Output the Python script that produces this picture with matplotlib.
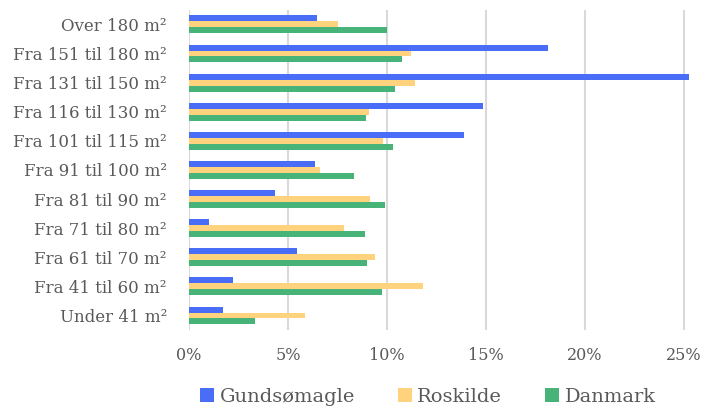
import numpy as np
import matplotlib.pyplot as plt
from matplotlib.ticker import PercentFormatter

categories = ["Under 41 m²", "Fra 41 til 60 m²", "Fra 61 til 70 m²", "Fra 71 til 80 m²",
              "Fra 81 til 90 m²", "Fra 91 til 100 m²", "Fra 101 til 115 m²",
              "Fra 116 til 130 m²", "Fra 131 til 150 m²", "Fra 151 til 180 m²",
              "Over 180 m²"]
gundsoemagle = [1.7, 2.2, 5.45, 1.0, 4.35, 6.35, 13.9, 14.85, 25.25, 18.1, 6.45]
roskilde = [5.85, 11.8, 9.4, 7.85, 9.15, 6.6, 9.8, 9.1, 11.4, 11.2, 7.5]
danmark = [3.35, 9.75, 9.0, 8.9, 9.9, 8.35, 10.3, 8.95, 10.4, 10.75, 10.0]
series = ["Gundsømagle", "Roskilde", "Danmark"]
colors = ["#4A6DF8", "#FFD27E", "#47B378"]

text_color = "#595959"
plt.rcParams["font.family"] = ["DejaVu Serif"]

fig = plt.figure(figsize=(7.02, 4.09), dpi=100)
ax = fig.add_axes([189 / 702, 0.193, 1 - 189 / 702, 0.783])

y = np.arange(len(categories))
h = 0.205
ax.barh(y + h, np.array(gundsoemagle) / 100, h, color=colors[0], label=series[0])
ax.barh(y, np.array(roskilde) / 100, h, color=colors[1], label=series[1])
ax.barh(y - h, np.array(danmark) / 100, h, color=colors[2], label=series[2])

ax.set_ylim(-0.5, len(categories) - 0.5)
ax.set_xlim(0, 0.259)
ax.set_xticks([0, 0.05, 0.10, 0.15, 0.20, 0.25])
ax.xaxis.set_major_formatter(PercentFormatter(1.0, decimals=0))
ax.set_yticks(y)
ax.set_yticklabels(categories)

for s in ax.spines.values():
    s.set_visible(False)
ax.grid(axis="x", color="#d9d9d9", linewidth=1.5)
ax.set_axisbelow(True)
ax.tick_params(axis="both", length=0, colors=text_color)
ax.tick_params(axis="y", labelsize=12, pad=16)
ax.tick_params(axis="x", labelsize=11.5, pad=12)

handles, labels = ax.get_legend_handles_labels()
fig.legend(handles, labels, loc="center", bbox_to_anchor=(428 / 702, 0.03), ncol=3,
           frameon=False, fontsize=14, handlelength=0.7, handleheight=0.7,
           handletextpad=0.3, columnspacing=2.2, labelcolor=text_color)

fig.savefig("out.png", dpi=100)
